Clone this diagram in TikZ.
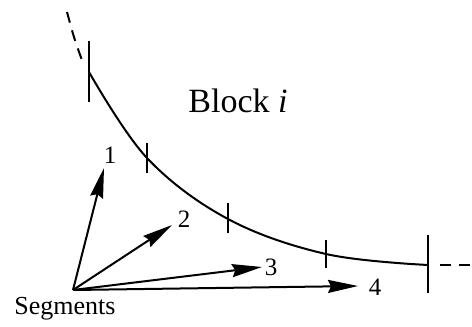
\documentclass[tikz,border=0pt]{standalone}
\usepackage{fontspec}
\setmainfont{Liberation Serif}
\usetikzlibrary{arrows.meta}
\begin{document}
\begin{tikzpicture}[x=1pt,y=-1pt,
  curveline/.style={line width=2pt},
  tickline/.style={line width=1.8pt},
  dashline/.style={line width=2pt,dash pattern=on 11pt off 8pt},
  segarrow/.style={line width=2pt,-{Stealth[length=30pt,width=13pt,inset=3pt]}},
  numlabel/.style={font=\fontsize{25}{27}\selectfont,inner sep=0pt}]
\useasboundingbox (0,0) rectangle (472,327);
% points on the block boundary
\coordinate (p1) at (89,72);
\coordinate (p2) at (147,158);
\coordinate (p3) at (228,219);
\coordinate (p4) at (326,254);
\coordinate (p5) at (428,265);
\coordinate (d1) at (67,12);
\coordinate (d2) at (472,265);
\coordinate (d1s) at (83,63);
\coordinate (d2s) at (440,265);
% curve
\draw[curveline] plot[smooth,tension=0.6] coordinates {(p1) (p2) (p3) (p4) (p5)};
\draw[dashline] (d1) .. controls (74,38) .. (d1s);
\draw[dashline] (d2s) -- (d2);
% ticks
\draw[tickline] ([yshift=-30pt]p1) -- ([yshift=31pt]p1);
\draw[tickline] ([yshift=-15pt]p2) -- ([yshift=15pt]p2);
\draw[tickline] ([yshift=-14pt]p3) -- ([yshift=16pt]p3);
\draw[tickline] ([yshift=-14pt]p4) -- ([yshift=14pt]p4);
\draw[tickline] ([yshift=-28pt]p5) -- ([yshift=30pt]p5);
% label
\node[font=\fontsize{34}{36}\selectfont,inner sep=0pt] (block) at (238,101) {Block \textit{i}};
% segments
\coordinate (o) at (73,290);
\coordinate (t1) at (104,168);
\coordinate (t2) at (172,225);
\coordinate (t3) at (262,267);
\coordinate (t4) at (358,286);
\draw[segarrow] (o) -- (t1);
\draw[segarrow] (o) -- (t2);
\draw[segarrow] (o) -- (t3);
\draw[segarrow] (o) -- (t4);
\node[numlabel] (n1) at (110,155) {1};
\node[numlabel] (n2) at (184,219) {2};
\node[numlabel] (n3) at (271,267) {3};
\node[numlabel] (n4) at (375,287) {4};
\node[font=\fontsize{26}{28}\selectfont,inner sep=0pt] (seg) at (65,309) {Segments};
\end{tikzpicture}
\end{document}
